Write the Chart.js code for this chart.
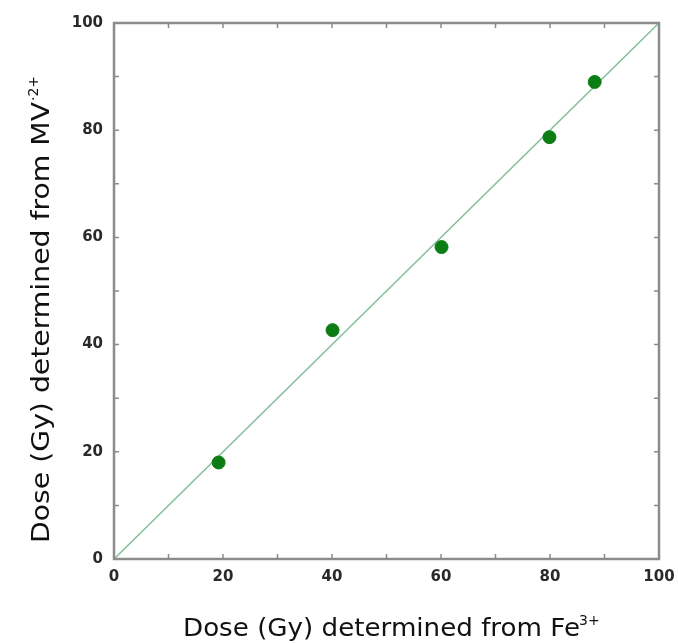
<!DOCTYPE html>
<html>
<head>
<meta charset="utf-8">
<script src="https://cdn.jsdelivr.net/npm/chart.js@4"></script>
<style>
html,body{margin:0;padding:0;background:#fff;}
#wrap{width:678px;height:643px;position:relative;}
</style>
</head>
<body>
<div id="wrap"><canvas id="c" width="678" height="643"></canvas></div>
<script>
// Data
const doseFe = [19.2, 40.1, 60.1, 79.9, 88.2];
const doseMV = [18.0, 42.7, 58.2, 78.7, 89.0];
const identityX = [0, 100];
const identityY = [0, 100];
const tickValues = [0, 20, 40, 60, 80, 100];
const minorTickValues = [10, 20, 30, 40, 50, 60, 70, 80, 90];
const xTitle = "Dose (Gy) determined from Fe";
const xTitleSup = "3+";
const yTitle = "Dose (Gy) determined from MV";
const yTitleSup = "\u00B72+";

const framePlugin = {
  id: 'frame',
  afterDraw(chart) {
    const ctx = chart.ctx;
    const a = chart.chartArea;
    const xs = chart.scales.x, ys = chart.scales.y;
    ctx.save();
    // inward ticks on all sides
    ctx.strokeStyle = '#8a8a8a';
    ctx.lineWidth = 1.5;
    const L = 5;
    ctx.beginPath();
    minorTickValues.forEach(v => {
      const px = xs.getPixelForValue(v);
      ctx.moveTo(px, a.bottom); ctx.lineTo(px, a.bottom - L);
      ctx.moveTo(px, a.top); ctx.lineTo(px, a.top + L);
      const py = ys.getPixelForValue(v);
      ctx.moveTo(a.left, py); ctx.lineTo(a.left + L, py);
      ctx.moveTo(a.right, py); ctx.lineTo(a.right - L, py);
    });
    ctx.stroke();
    // frame
    ctx.strokeStyle = '#8c8c8c';
    ctx.lineWidth = 2.5;
    ctx.strokeRect(a.left, a.top, a.right - a.left, a.bottom - a.top);

    // axis titles
    ctx.fillStyle = '#111';
    ctx.textBaseline = 'alphabetic';
    ctx.textAlign = 'left';
    const mainFont = '24px "DejaVu Sans", sans-serif';
    const supFont = '14px "DejaVu Sans", sans-serif';
    // X title
    ctx.font = mainFont;
    let w = ctx.measureText(xTitle).width;
    let target = 397;
    let s = target / w;
    ctx.save();
    ctx.translate(183, 636);
    ctx.scale(s, 1);
    ctx.fillText(xTitle, 0, 0);
    ctx.restore();
    ctx.font = supFont;
    ctx.fillText(xTitleSup, 182 + target, 625);
    // Y title
    ctx.font = mainFont;
    w = ctx.measureText(yTitle).width;
    target = 441;
    s = target / w;
    ctx.save();
    ctx.translate(49, 543);
    ctx.rotate(-Math.PI / 2);
    ctx.save();
    ctx.scale(s, 1);
    ctx.fillText(yTitle, 0, 0);
    ctx.restore();
    ctx.font = supFont;
    ctx.fillText(yTitleSup, target + 1, -11);
    ctx.restore();
    ctx.restore();
  }
};

const tickFont = {family: '"DejaVu Sans", sans-serif', size: 15, weight: 'bold'};

new Chart(document.getElementById('c'), {
  type: 'scatter',
  data: {
    datasets: [
      {
        type: 'line',
        data: identityX.map((x, i) => ({x: x, y: identityY[i]})),
        borderColor: '#86c09c',
        borderWidth: 1.6,
        pointRadius: 0,
        fill: false,
        order: 2
      },
      {
        type: 'scatter',
        data: doseFe.map((x, i) => ({x: x, y: doseMV[i]})),
        backgroundColor: '#0c7d14',
        borderColor: '#0c7d14',
        pointRadius: 6.5,
        pointHoverRadius: 6.5,
        order: 1
      }
    ]
  },
  options: {
    responsive: false,
    animation: false,
    layout: {padding: {left: 0, top: 23, right: 19, bottom: 0}},
    plugins: {legend: {display: false}, tooltip: {enabled: false}},
    scales: {
      x: {
        type: 'linear', min: 0, max: 100,
        afterFit(scale) { scale.height = 84; scale.paddingLeft = 0; scale.paddingRight = 0; },
        afterBuildTicks(scale) { scale.ticks = tickValues.map(v => ({value: v})); },
        grid: {display: false, drawTicks: false},
        border: {display: false},
        ticks: {font: tickFont, color: '#2a2a2a', padding: 9, maxRotation: 0}
      },
      y: {
        type: 'linear', min: 0, max: 100,
        afterFit(scale) { scale.width = 114; scale.paddingTop = 0; scale.paddingBottom = 0; },
        afterBuildTicks(scale) { scale.ticks = tickValues.map(v => ({value: v})); },
        grid: {display: false, drawTicks: false},
        border: {display: false},
        ticks: {font: tickFont, color: '#2a2a2a', padding: 11}
      }
    }
  },
  plugins: [framePlugin]
});
</script>
</body>
</html>
